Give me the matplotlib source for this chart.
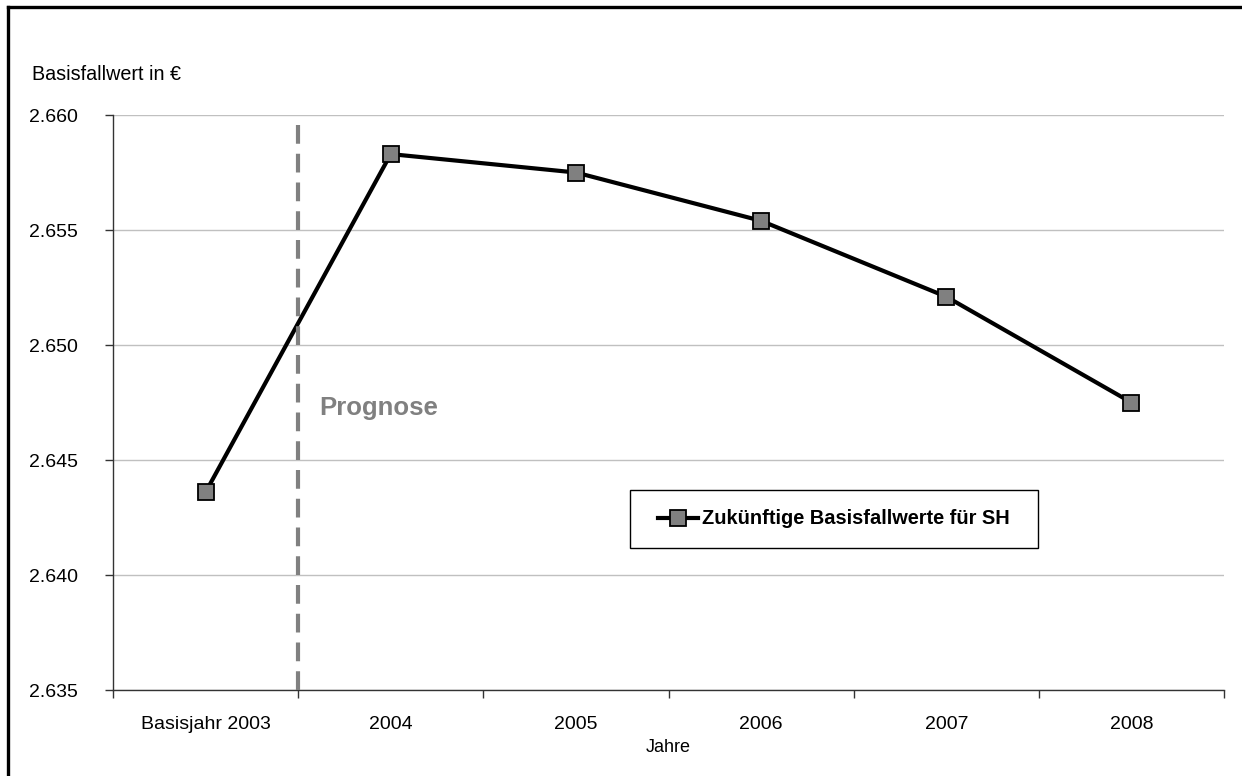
import matplotlib
matplotlib.use("Agg")
import matplotlib.pyplot as plt
from matplotlib.patches import Rectangle
from matplotlib.lines import Line2D
from matplotlib.ticker import FuncFormatter

plt.rcParams['font.family'] = ['Liberation Sans', 'DejaVu Sans']

categories = ["Basisjahr 2003", "2004", "2005", "2006", "2007", "2008"]
values = [2.6436, 2.6583, 2.6575, 2.6554, 2.6521, 2.6475]
series_label = "Zukünftige Basisfallwerte für SH"
y_ticks = [2.635, 2.640, 2.645, 2.650, 2.655, 2.660]

fig = plt.figure(figsize=(12.42, 7.76), dpi=100)
ax = fig.add_axes([113/1242, 1-690/776, (1224-113)/1242, (690-115)/776])

x = list(range(len(categories)))
ax.plot(x, values, color='black', lw=3.0, marker='s', markersize=11,
        markerfacecolor='#808080', markeredgecolor='black', markeredgewidth=1.3,
        zorder=4, solid_joinstyle='miter')

ax.axvline(0.5, ymin=0, ymax=(690-125)/575, color='#808080', lw=3.0,
           dashes=(4.5, 2.4), zorder=5)
ax.text(0.615, 2.64695, "Prognose", color='#808080', fontsize=18.5,
        fontweight='bold', ha='left', va='baseline', zorder=6)

ax.set_xlim(-0.5, len(categories) - 0.5)
ax.set_ylim(y_ticks[0], y_ticks[-1])
ax.set_yticks(y_ticks)
ax.yaxis.set_major_formatter(FuncFormatter(lambda v, p: f"{v:.3f}"))
ax.set_xticks([i - 0.5 for i in range(len(categories) + 1)])
ax.set_xticklabels([])
ax.set_xticks(x, minor=True)
ax.set_xticklabels(categories, minor=True)
ax.tick_params(axis='x', which='minor', length=0, pad=19, labelsize=14)
ax.tick_params(axis='x', which='major', length=6, width=1, color='#333333', direction='out')
ax.tick_params(axis='y', length=6, width=1, color='#333333', direction='out', pad=19, labelsize=14)

ax.grid(axis='y', color='#c0c0c0', lw=1, zorder=0)
ax.set_axisbelow(True)
for s in ['top', 'right']:
    ax.spines[s].set_visible(False)
for s in ['left', 'bottom']:
    ax.spines[s].set_color('#333333')
    ax.spines[s].set_linewidth(1)

ax.set_xlabel("Jahre", fontsize=13, labelpad=4)
fig.text(32/1242, 1-75/776, "Basisfallwert in €", fontsize=14.2, ha='left', va='center')

# legend
x0 = (630-113)/1111; x1 = (1038-113)/1111
y1 = (690-490)/575; y0 = (690-548)/575
ax.add_patch(Rectangle((x0, y0), x1-x0, y1-y0, transform=ax.transAxes,
                       facecolor='white', edgecolor='black', lw=1, zorder=7))
handle = Line2D([], [], color='black', lw=3.0, marker='s', markersize=11,
                markerfacecolor='#808080', markeredgecolor='black', markeredgewidth=1.3)
leg = ax.legend([handle], [series_label], loc='center',
                bbox_to_anchor=((x0+x1)/2, (y0+y1)/2), frameon=False,
                prop={'weight': 'bold', 'size': 14.4}, handlelength=2.0,
                handletextpad=0.2, borderpad=0)
leg.set_zorder(8)

# outer frame (top and left visible)
fig.add_artist(Line2D([8/1242, 1.01], [1-7/776, 1-7/776], transform=fig.transFigure,
                      color='black', lw=2.4))
fig.add_artist(Line2D([8/1242, 8/1242], [1-7/776, -0.01], transform=fig.transFigure,
                      color='black', lw=2.4))

fig.savefig("out.png", dpi=100)
